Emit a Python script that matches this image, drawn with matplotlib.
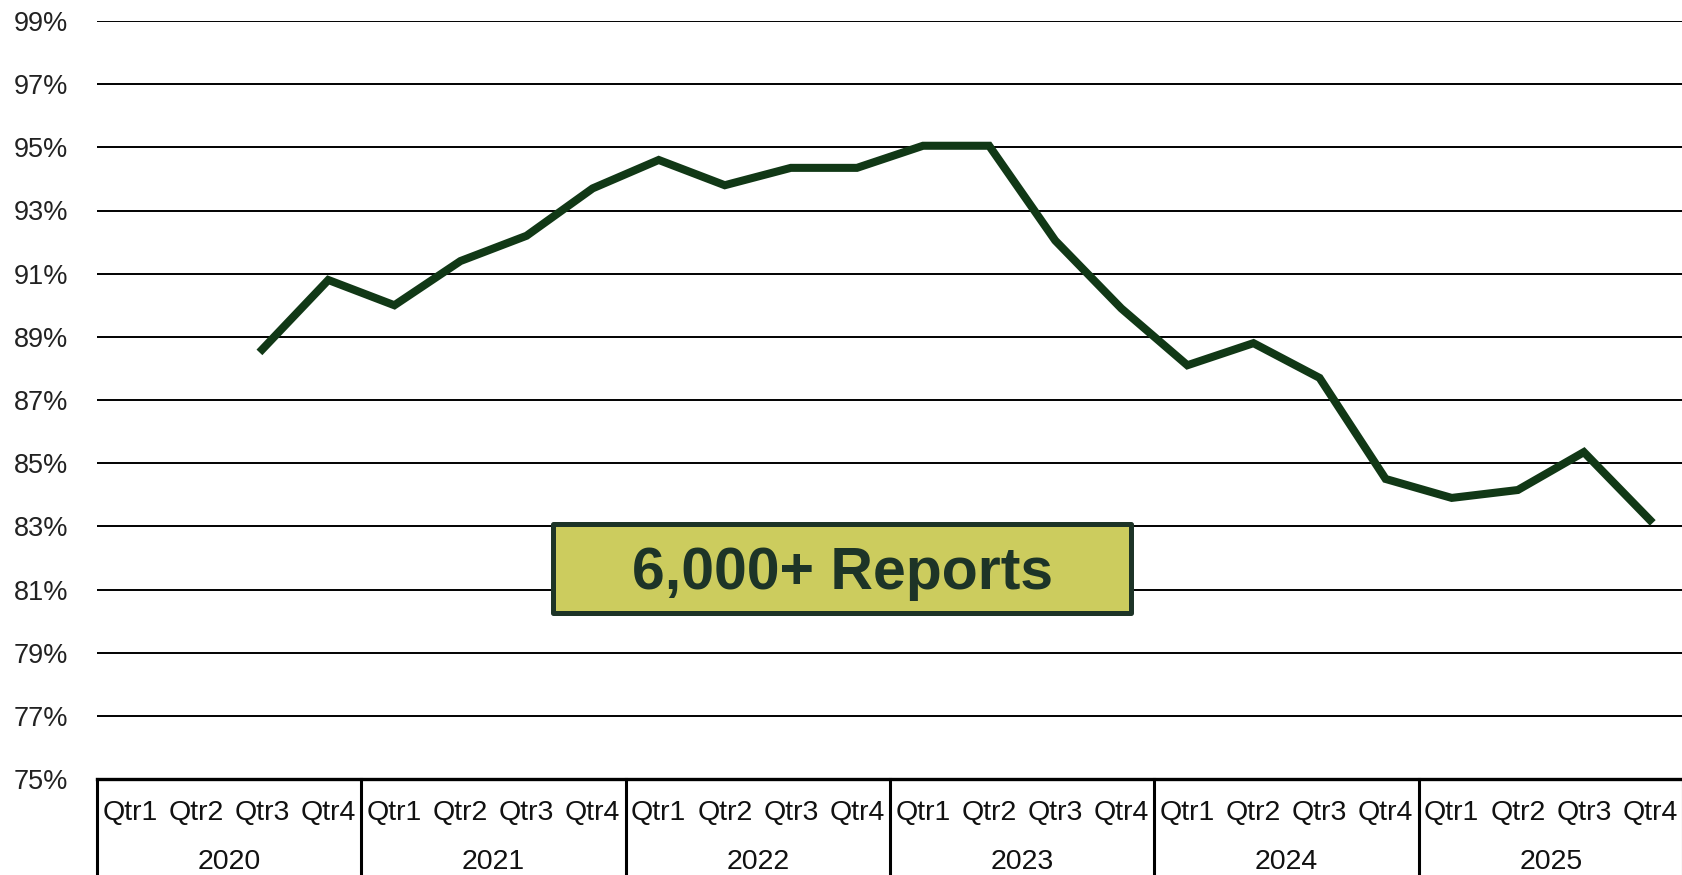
import matplotlib
matplotlib.use("Agg")
import matplotlib.pyplot as plt
from matplotlib.patches import Rectangle

plt.rcParams['font.family'] = ['Liberation Sans', 'DejaVu Sans']

years = ["2020", "2021", "2022", "2023", "2024", "2025"]
quarters = ["Qtr1", "Qtr2", "Qtr3", "Qtr4"]
# None = no data
values = [None, None, 88.6, 90.8,
          90.0, 91.4, 92.2, 93.7,
          94.6, 93.8, 94.35, 94.35,
          95.05, 95.05, 92.05, 89.9,
          88.1, 88.8, 87.7, 84.5,
          83.9, 84.15, 85.35, 83.2]
yticks = [75, 77, 79, 81, 83, 85, 87, 89, 91, 93, 95, 97, 99]
box_text = "6,000+ Reports"

W, H = 1683, 875
fig = plt.figure(figsize=(W / 100, H / 100), dpi=100)
left = 97 / W
bottom = 1 - 779 / H
top = 1 - 21 / H
ax = fig.add_axes([left, bottom, 1 - left, top - bottom])

n = len(years) * len(quarters)
xs = [i for i, v in enumerate(values) if v is not None]
ys = [v for v in values if v is not None]

ax.set_xlim(-0.5, n - 0.5)
ax.set_ylim(75, 99)

for t in yticks[1:]:
    ax.axhline(t, color='black', lw=1.4, zorder=1)

ax.plot(xs, ys, color='#113816', lw=5.8, solid_joinstyle='miter', zorder=3)

for s in ['top', 'right', 'left']:
    ax.spines[s].set_visible(False)
ax.spines['bottom'].set_linewidth(2.4)
ax.spines['bottom'].set_color('black')

ax.set_yticks(yticks)
ax.set_yticklabels([f"{t}%" for t in yticks], fontsize=19.5, color='#222222')
ax.tick_params(axis='y', length=0, pad=60)
for lab in ax.get_yticklabels():
    lab.set_horizontalalignment('left')

ax.set_xticks(range(n))
ax.set_xticklabels(quarters * len(years), fontsize=20.5, color='#111111')
ax.tick_params(axis='x', length=0, pad=15)

trans = ax.get_xaxis_transform()
axh_px = 779 - 21
for k, yr in enumerate(years):
    ax.text(k * 4 + 1.5, -(862 - 779) / axh_px, yr, transform=trans,
            ha='center', va='center', fontsize=20.5, color='#111111')
for k in range(len(years) + 1):
    ax.plot([k * 4 - 0.5, k * 4 - 0.5], [0, -(875 - 779) / axh_px - 0.01],
            transform=trans, color='black', lw=2.2, clip_on=False)

# annotation box
bx0, bx1 = 6.4, 15.15
by0, by1 = 80.27, 83.08
ax.add_patch(Rectangle((bx0, by0), bx1 - bx0, by1 - by0, facecolor='#cccc5e',
                       edgecolor='#1d3427', lw=3.6, zorder=5, joinstyle='round'))
ax.text((bx0 + bx1) / 2, 81.02, box_text, ha='center', va='baseline',
        fontsize=42.5, fontweight='bold', color='#1d3427', zorder=6)

fig.savefig("out.png", dpi=100)
